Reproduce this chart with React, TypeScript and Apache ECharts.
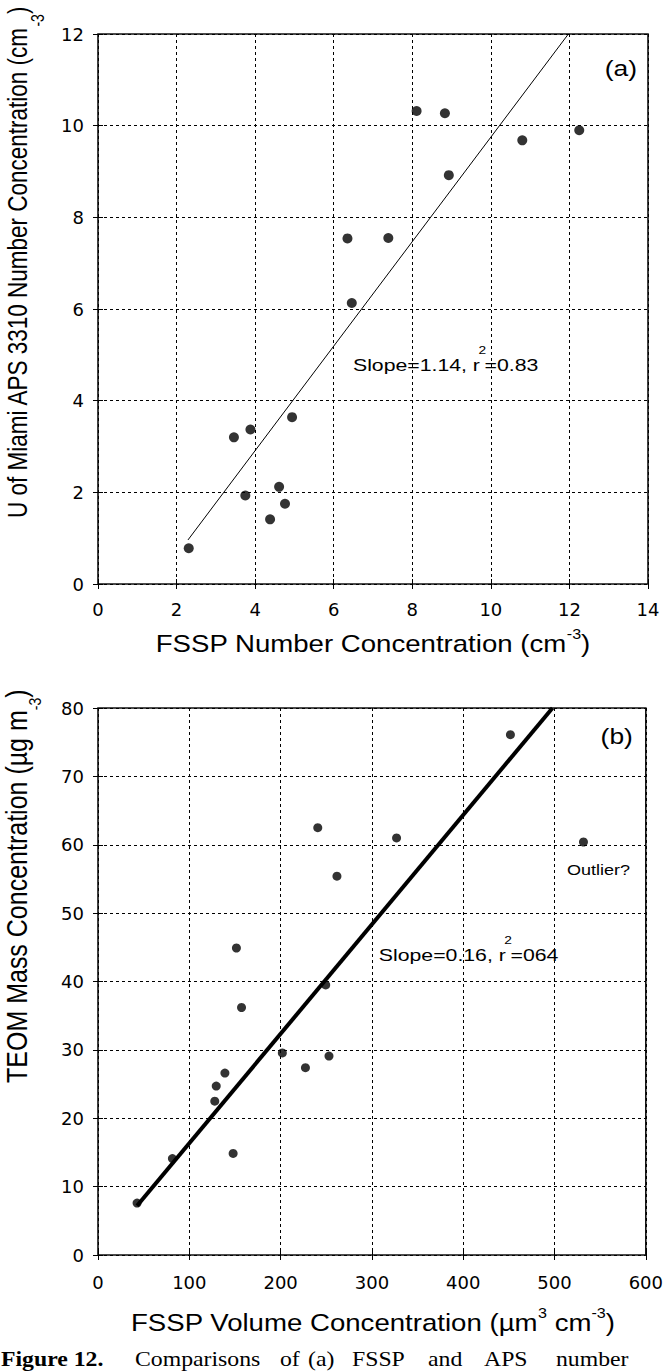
import React, { useEffect, useRef } from 'react';
import * as echarts from 'echarts';

// ---------- Panel (a) ----------
const fsspNumber = [2.31, 3.46, 3.88, 3.75, 4.38, 4.61, 4.76, 4.94, 6.35, 6.46, 7.39, 8.11, 8.83, 8.93, 10.8, 12.25];
const apsNumber = [0.78, 3.2, 3.37, 1.93, 1.41, 2.12, 1.75, 3.64, 7.54, 6.13, 7.55, 10.32, 10.27, 8.92, 9.68, 9.9];
const fitAX = [2.29, 11.97];
const fitASlope = 1.14;
const fitAIntercept = -1.65;
const axisA = { xMin: 0, xMax: 14, xStep: 2, yMin: 0, yMax: 12, yStep: 2 };

// ---------- Panel (b) ----------
const fsspVolume = [42.8, 81.5, 127.9, 129.5, 139, 148, 151.6, 157.2, 201.9, 227.2, 249.4, 253, 240.7, 261.7, 327, 451.7, 531.7];
const teomMass = [7.6, 14.1, 22.5, 24.7, 26.6, 14.85, 44.9, 36.2, 29.56, 27.4, 39.5, 29.1, 62.5, 55.4, 61.0, 76.1, 60.4];
const fitBX = [42.8, 497.8];
const fitBSlope = 0.16;
const fitBIntercept = 0.35;
const axisB = { xMin: 0, xMax: 600, xStep: 100, yMin: 0, yMax: 80, yStep: 10 };

const SANS = 'Liberation Sans, Arial, Helvetica, sans-serif';
const TICKFONT = 'DejaVu Sans, Liberation Sans, sans-serif';
const SERIF = 'Liberation Serif, Times New Roman, serif';

type Part = [string, boolean];

let measureCtx: CanvasRenderingContext2D | null = null;
function measure(text: string, size: number, family: string, weight = 'normal') {
  if (!measureCtx) measureCtx = document.createElement('canvas').getContext('2d');
  measureCtx!.font = `${weight} ${size}px ${family}`;
  return measureCtx!.measureText(text).width;
}

// A run of text pieces (normal / superscript) laid out as separate text elements in a group.
function textRun(parts: Part[], opts: any) {
  const {
    x, y, F, raise = 0, family = SANS, align = 'center', rotation = 0,
    scaleX = 1, scaleY = 1, sF, fontWeight = 'normal', kern = 0,
  } = opts;
  const s = sF || Math.round(F * 0.62);
  const widths = parts.map(([t, sup]) => measure(t, sup ? s : F, family, fontWeight) + (sup ? -2 * kern : 0));
  const total = widths.reduce((a, b) => a + b, 0);
  let start = 0;
  if (align === 'center') start = -total / 2;
  else if (align === 'right') start = -total;
  const children: any[] = [];
  let cx = start;
  parts.forEach(([t, sup], i) => {
    children.push({
      type: 'text',
      x: sup ? cx - kern : cx,
      y: sup ? -raise : 0,
      silent: true,
      style: {
        text: t,
        fill: '#000',
        fontSize: sup ? s : F,
        fontFamily: family,
        fontWeight,
        align: 'left',
        textAlign: 'left',
        verticalAlign: 'middle',
        textVerticalAlign: 'middle',
      },
    });
    cx += widths[i];
  });
  return { type: 'group', x, y, rotation, scaleX, scaleY, silent: true, children };
}

function makeAxes(gridIndex: number, a: typeof axisA) {
  const dashed = { show: true, lineStyle: { type: [3, 3], color: '#000', width: 1 } };
  const tick = { show: true, inside: true, length: 5, lineStyle: { color: '#000', width: 1 } };
  const label = { color: '#000', fontFamily: TICKFONT, fontSize: 18 };
  const x = [
    {
      gridIndex, type: 'value', min: a.xMin, max: a.xMax, interval: a.xStep, position: 'bottom',
      axisLine: { show: false }, axisTick: tick, splitLine: dashed,
      axisLabel: { ...label, margin: gridIndex === 0 ? 16 : 18 },
    },
    {
      gridIndex, type: 'value', min: a.xMin, max: a.xMax, interval: a.xStep, position: 'top',
      axisLine: { show: false }, axisTick: tick, splitLine: { show: false }, axisLabel: { show: false },
    },
  ];
  const y = [
    {
      gridIndex, type: 'value', min: a.yMin, max: a.yMax, interval: a.yStep, position: 'left',
      axisLine: { show: false }, axisTick: tick, splitLine: dashed,
      axisLabel: { ...label, margin: 14 },
    },
    {
      gridIndex, type: 'value', min: a.yMin, max: a.yMax, interval: a.yStep, position: 'right',
      axisLine: { show: false }, axisTick: tick, splitLine: { show: false }, axisLabel: { show: false },
    },
  ];
  return { x, y };
}

export default function App() {
  const ref = useRef<HTMLDivElement>(null);

  useEffect(() => {
    if (!ref.current) return;
    const chart = echarts.init(ref.current, undefined, { renderer: 'svg' });
    const A = makeAxes(0, axisA);
    const B = makeAxes(1, axisB);

    const option: any = {
      animation: false,
      backgroundColor: '#fff',
      grid: [
        { left: 98, top: 34, width: 550, height: 550, show: true, borderColor: '#111', borderWidth: 1.6, backgroundColor: 'transparent' },
        { left: 98, top: 708, width: 550, height: 547, show: true, borderColor: '#111', borderWidth: 1.6, backgroundColor: 'transparent' },
      ],
      xAxis: [...A.x, ...B.x],
      yAxis: [...A.y, ...B.y],
      series: [
        {
          type: 'line', xAxisIndex: 0, yAxisIndex: 0, symbol: 'none', silent: true,
          lineStyle: { color: '#000', width: 1 },
          data: fitAX.map((x) => [x, fitASlope * x + fitAIntercept]),
        },
        {
          type: 'scatter', xAxisIndex: 0, yAxisIndex: 0, symbol: 'circle', symbolSize: 10,
          itemStyle: { color: '#000' },
          data: fsspNumber.map((x, i) => [x, apsNumber[i]]),
        },
        {
          type: 'line', xAxisIndex: 2, yAxisIndex: 2, symbol: 'none', silent: true,
          lineStyle: { color: '#000', width: 4 },
          data: fitBX.map((x) => [x, fitBSlope * x + fitBIntercept]),
        },
        {
          type: 'scatter', xAxisIndex: 2, yAxisIndex: 2, symbol: 'circle', symbolSize: 9,
          itemStyle: { color: '#000' },
          data: fsspVolume.map((x, i) => [x, teomMass[i]]),
        },
      ],
    };
    chart.setOption(option);

    const pA = (x: number, y: number) => chart.convertToPixel({ gridIndex: 0 }, [x, y]) as number[];
    const pB = (x: number, y: number) => chart.convertToPixel({ gridIndex: 1 }, [x, y]) as number[];

    const slopeA = pA(6.49, 4.78);
    const labelA = pA(13.72, 11.26);
    const slopeB = pB(307.6, 43.9);
    const outlier = pB(513.8, 56.3);
    const labelB = pB(585.8, 75.9);

    const capY = 1359;
    const capF = 22;
    const graphic: any[] = [
      textRun([['Slope=1.14, r', false], ['2', true], ['=0.83', false]], { x: slopeA[0], y: slopeA[1], F: 17, raise: 14, align: 'left', scaleX: 1.25, sF: 11, kern: 1.2 }),
      textRun([['(a)', false]], { x: labelA[0], y: labelA[1], F: 22, align: 'right', scaleX: 1.2 }),
      textRun([['Slope=0.16, r', false], ['2', true], ['=064', false]], { x: slopeB[0], y: slopeB[1], F: 17, raise: 14, align: 'left', scaleX: 1.25, sF: 11, kern: 1.2 }),
      textRun([['Outlier?', false]], { x: outlier[0], y: outlier[1], F: 15, align: 'left', scaleX: 1.2 }),
      textRun([['(b)', false]], { x: labelB[0], y: labelB[1], F: 22, align: 'right', scaleX: 1.2 }),
      // axis titles
      textRun([['FSSP Number Concentration (cm', false], ['-3', true], [')', false]], { x: 373, y: 643.5, F: 24, raise: 10, align: 'center', scaleX: 1.15, sF: 14 }),
      textRun([['FSSP Volume Concentration (µm', false], ['3', true], [' cm', false], ['-3', true], [')', false]], { x: 373, y: 1322.5, F: 24, raise: 10, align: 'center', scaleX: 1.15, sF: 14 }),
      textRun([['U of Miami APS 3310 Number Concentration (cm', false], ['-3', true], [')', false]], { x: 17, y: 518, F: 22.5, raise: -17, align: 'left', rotation: Math.PI / 2, scaleY: 1.25, sF: 14 }),
      textRun([['TEOM Mass Concentration (µg m', false], ['-3', true], [')', false]], { x: 17, y: 1083, F: 25, raise: -15, align: 'left', rotation: Math.PI / 2, scaleY: 1.2, sF: 14 }),
      // caption at the foot of the page
      textRun([['Figure 12.', false]], { x: 1, y: capY, F: capF, align: 'left', family: SERIF, fontWeight: 'bold', scaleX: 1.08 }),
      textRun([['Comparisons', false]], { x: 135, y: capY, F: capF, align: 'left', family: SERIF, scaleX: 1.08 }),
      textRun([['of', false]], { x: 280, y: capY, F: capF, align: 'left', family: SERIF, scaleX: 1.08 }),
      textRun([['(a)', false]], { x: 308, y: capY, F: capF, align: 'left', family: SERIF, scaleX: 1.08 }),
      textRun([['FSSP', false]], { x: 352, y: capY, F: capF, align: 'left', family: SERIF, scaleX: 1.08 }),
      textRun([['and', false]], { x: 428, y: capY, F: capF, align: 'left', family: SERIF, scaleX: 1.08 }),
      textRun([['APS', false]], { x: 484, y: capY, F: capF, align: 'left', family: SERIF, scaleX: 1.08 }),
      textRun([['number', false]], { x: 556, y: capY, F: capF, align: 'left', family: SERIF, scaleX: 1.08 }),
    ];
    chart.setOption({ graphic });

    return () => chart.dispose();
  }, []);

  return (
    <div
      ref={ref}
      style={{ position: 'absolute', left: 0, top: 0, width: 666, height: 1372, background: '#fff' }}
    />
  );
}
